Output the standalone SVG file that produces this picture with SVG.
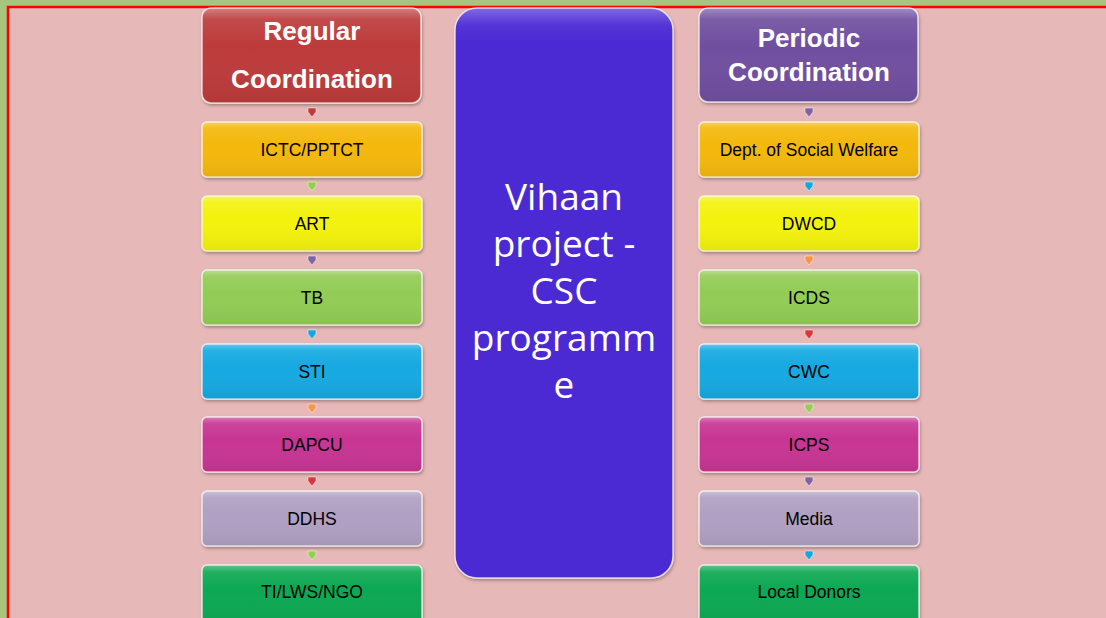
<svg xmlns="http://www.w3.org/2000/svg" width="1106" height="618" viewBox="0 0 1106 618">
<style>
.box{stroke:#fff;stroke-opacity:0.75;stroke-width:1.5;filter:url(#sh)}
.lbl{font-family:"Liberation Sans",Arial,sans-serif;font-size:17.5px;fill:#000;text-anchor:middle}
.hdr{font-family:"Liberation Sans",Arial,sans-serif;font-size:26px;font-weight:bold;fill:#fff;text-anchor:middle}
.ctr{font-family:"Open Sans","Liberation Sans",Arial,sans-serif;font-size:37px;fill:#fff;text-anchor:middle}
.gl{fill:url(#gloss)}
</style>
<defs>
<filter id="sh" x="-10%" y="-10%" width="120%" height="130%"><feDropShadow dx="1" dy="2" stdDeviation="1.5" flood-color="#000" flood-opacity="0.3"/></filter>
<linearGradient id="gloss" x1="0" y1="0" x2="0" y2="1"><stop offset="0" stop-color="#fff" stop-opacity="0.35"/><stop offset="0.12" stop-color="#fff" stop-opacity="0.08"/><stop offset="0.4" stop-color="#fff" stop-opacity="0"/><stop offset="1" stop-color="#000" stop-opacity="0.06"/></linearGradient>
<linearGradient id="cgloss" x1="0" y1="0" x2="0" y2="1"><stop offset="0" stop-color="#fff" stop-opacity="0.3"/><stop offset="0.03" stop-color="#fff" stop-opacity="0.05"/><stop offset="0.06" stop-color="#fff" stop-opacity="0"/></linearGradient>
<path id="ar" d="M-4,-5 H4 V-1 L0,4 L-4,-1 Z"/>
</defs>
<rect x="0" y="0" width="1106" height="618" fill="#a9c47f"/>
<rect x="8" y="7" width="1110" height="620" fill="#e6b8b7" stroke="#ff0000" stroke-width="2.5"/>

<g id="connectors" stroke="#fff" stroke-opacity="0.6" stroke-width="0.8">
<use href="#ar" x="312" y="113" fill="#c0393b"/>
<use href="#ar" x="312" y="187" fill="#92d050"/>
<use href="#ar" x="312" y="261" fill="#8064a2"/>
<use href="#ar" x="312" y="335" fill="#12a9e1"/>
<use href="#ar" x="312" y="409" fill="#f79646"/>
<use href="#ar" x="312" y="482" fill="#d9363e"/>
<use href="#ar" x="312" y="556" fill="#92d050"/>
<use href="#ar" x="809" y="113" fill="#8064a2"/>
<use href="#ar" x="809" y="187" fill="#12a9e1"/>
<use href="#ar" x="809" y="261" fill="#f79646"/>
<use href="#ar" x="809" y="335" fill="#d9363e"/>
<use href="#ar" x="809" y="409" fill="#92d050"/>
<use href="#ar" x="809" y="482" fill="#8064a2"/>
<use href="#ar" x="809" y="556" fill="#12a9e1"/>
</g>

<g id="regular">
<rect class="box" x="202" y="8" width="219" height="95" rx="9" fill="#bd3a3a"/>
<rect x="202" y="8" width="219" height="95" rx="9" class="gl"/>
<text class="hdr" x="312" y="40">Regular</text>
<text class="hdr" x="312" y="88">Coordination</text>
</g>
<g id="ictc"><rect class="box" x="202" y="122" width="220" height="55" rx="5" fill="#f4b80f"/><rect x="202" y="122" width="220" height="55" rx="5" class="gl"/><text class="lbl" x="312" y="156">ICTC/PPTCT</text></g>
<g id="art"><rect class="box" x="202" y="196" width="220" height="55" rx="5" fill="#f3f20f"/><rect x="202" y="196" width="220" height="55" rx="5" class="gl"/><text class="lbl" x="312" y="230">ART</text></g>
<g id="tb"><rect class="box" x="202" y="270" width="220" height="55" rx="5" fill="#92cc55"/><rect x="202" y="270" width="220" height="55" rx="5" class="gl"/><text class="lbl" x="312" y="304">TB</text></g>
<g id="sti"><rect class="box" x="202" y="344" width="220" height="55" rx="5" fill="#12a9e1"/><rect x="202" y="344" width="220" height="55" rx="5" class="gl"/><text class="lbl" x="312" y="378">STI</text></g>
<g id="dapcu"><rect class="box" x="202" y="417" width="220" height="55" rx="5" fill="#c73593"/><rect x="202" y="417" width="220" height="55" rx="5" class="gl"/><text class="lbl" x="312" y="451">DAPCU</text></g>
<g id="ddhs"><rect class="box" x="202" y="491" width="220" height="55" rx="5" fill="#b0a0c3"/><rect x="202" y="491" width="220" height="55" rx="5" class="gl"/><text class="lbl" x="312" y="525">DDHS</text></g>
<g id="ti"><rect class="box" x="202" y="565" width="220" height="60" rx="5" fill="#10a852"/><rect x="202" y="565" width="220" height="60" rx="5" class="gl"/><text class="lbl" x="312" y="598">TI/LWS/NGO</text></g>

<g id="center">
<rect class="box" x="455" y="8" width="218" height="570" rx="22" fill="#4b2ad4"/>
<rect x="455" y="8" width="218" height="570" rx="22" fill="url(#cgloss)"/>
<text class="ctr" x="564" y="210">Vihaan</text>
<text class="ctr" x="564" y="257">project -</text>
<text class="ctr" x="564" y="304">CSC</text>
<text class="ctr" x="564" y="351">programm</text>
<text class="ctr" x="564" y="398">e</text>
</g>

<g id="periodic">
<rect class="box" x="699" y="8" width="219" height="94" rx="9" fill="#7050a0"/>
<rect x="699" y="8" width="219" height="94" rx="9" class="gl"/>
<text class="hdr" x="809" y="47">Periodic</text>
<text class="hdr" x="809" y="81">Coordination</text>
</g>
<g id="dsw"><rect class="box" x="699" y="122" width="220" height="55" rx="5" fill="#f4b80f"/><rect x="699" y="122" width="220" height="55" rx="5" class="gl"/><text class="lbl" x="809" y="156">Dept. of Social Welfare</text></g>
<g id="dwcd"><rect class="box" x="699" y="196" width="220" height="55" rx="5" fill="#f3f20f"/><rect x="699" y="196" width="220" height="55" rx="5" class="gl"/><text class="lbl" x="809" y="230">DWCD</text></g>
<g id="icds"><rect class="box" x="699" y="270" width="220" height="55" rx="5" fill="#92cc55"/><rect x="699" y="270" width="220" height="55" rx="5" class="gl"/><text class="lbl" x="809" y="304">ICDS</text></g>
<g id="cwc"><rect class="box" x="699" y="344" width="220" height="55" rx="5" fill="#12a9e1"/><rect x="699" y="344" width="220" height="55" rx="5" class="gl"/><text class="lbl" x="809" y="378">CWC</text></g>
<g id="icps"><rect class="box" x="699" y="417" width="220" height="55" rx="5" fill="#c73593"/><rect x="699" y="417" width="220" height="55" rx="5" class="gl"/><text class="lbl" x="809" y="451">ICPS</text></g>
<g id="media"><rect class="box" x="699" y="491" width="220" height="55" rx="5" fill="#b0a0c3"/><rect x="699" y="491" width="220" height="55" rx="5" class="gl"/><text class="lbl" x="809" y="525">Media</text></g>
<g id="donors"><rect class="box" x="699" y="565" width="220" height="60" rx="5" fill="#10a852"/><rect x="699" y="565" width="220" height="60" rx="5" class="gl"/><text class="lbl" x="809" y="598">Local Donors</text></g>
</svg>
